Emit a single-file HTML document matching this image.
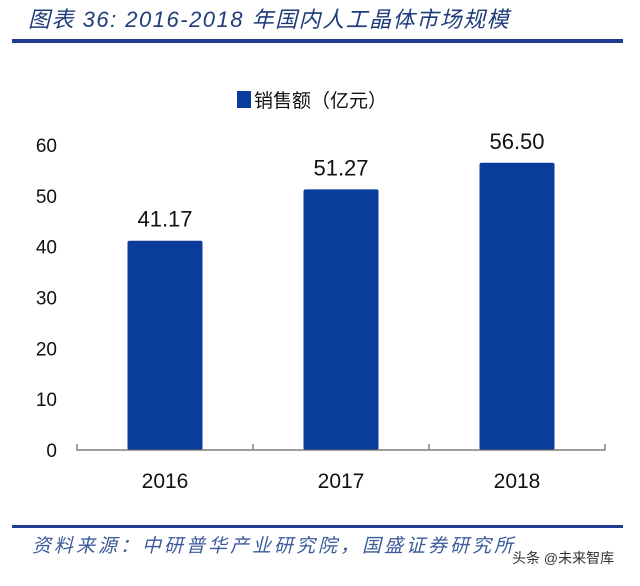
<!DOCTYPE html>
<html><head><meta charset="utf-8"><style>
body{margin:0;background:#fff;width:640px;height:581px;overflow:hidden;font-family:"Liberation Sans","Noto Sans CJK SC",sans-serif}
svg text{font-family:"Liberation Sans","Noto Sans CJK SC",sans-serif}
</style></head><body>
<svg width="640" height="581">
<text x="28" y="27" font-size="22" font-style="italic" letter-spacing="1.5" fill="#1f3c7a">图表 36:  2016-2018 年国内人工晶体市场规模</text>
<rect x="12" y="39" width="611" height="4" fill="#1f3c8f"/>
<rect x="237" y="91" width="14" height="17" fill="#0a3d9b"/>
<text x="254" y="107" font-size="19" fill="#111">销售额（亿元）</text>
<g id="plot"></g>
<rect x="12" y="525" width="611" height="3" fill="#1f3c8f"/>
<text x="32" y="552" font-size="19" font-style="italic" letter-spacing="3" fill="#3a5a9a">资料来源：中研普华产业研究院，国盛证券研究所</text>
<text x="512" y="563" font-size="14" fill="#333">头条 @未来智库</text>
</svg>
<script>
const categories=["2016","2017","2018"];
const values=[41.17,51.27,56.50];
const labels=["41.17","51.27","56.50"];
const yTicks=[0,10,20,30,40,50,60];
const NS="http://www.w3.org/2000/svg";
const g=document.getElementById("plot");
const x0=77,x1=605,y0=450,yTop=145,yMax=60;
const y=v=>y0-(v/yMax)*(y0-yTop);
const band=(x1-x0)/categories.length;
function mk(t,a,txt){const e=document.createElementNS(NS,t);for(const k in a)e.setAttribute(k,a[k]);if(txt!==undefined)e.textContent=txt;g.appendChild(e);return e;}
yTicks.forEach(t=>{
const e=mk("text",{x:57,y:y(t)+7,"font-size":19,"text-anchor":"end",fill:"#111"},t);


});
categories.forEach((c,i)=>{
const cx=x0+band*(i+0.5),bw=75;
const r=mk("rect",{x:cx-bw/2,y:y(values[i]),width:bw,height:y0-y(values[i]),fill:"#0a3d9b",rx:2});


const l=mk("text",{x:cx,y:y(values[i])-14,"font-size":22,"text-anchor":"middle",fill:"#111"},labels[i]);


const xl=mk("text",{x:cx,y:488,"font-size":21,"text-anchor":"middle",fill:"#111"},c);


});
const ax=mk("path",{d:`M${x0},${y0-6}V${y0}H${x1}V${y0-6}`+categories.slice(1).map((c,i)=>`M${x0+band*(i+1)},${y0}V${y0-6}`).join(""),stroke:"#666",fill:"none","stroke-width":1.2});


</script>
</body></html>
